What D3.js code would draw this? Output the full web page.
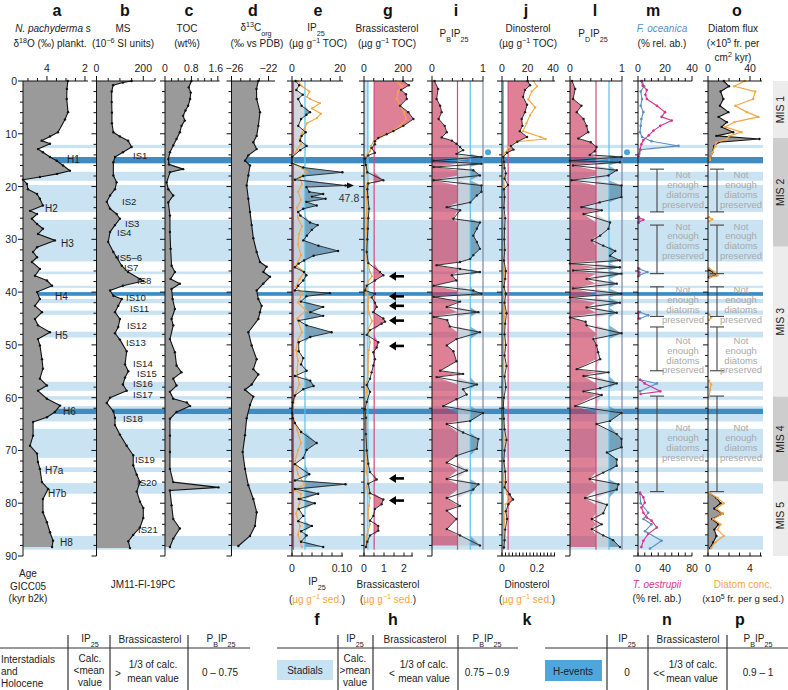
<!DOCTYPE html>
<html><head><meta charset="utf-8">
<script src="https://cdn.jsdelivr.net/npm/d3@7"></script>
<style>body{margin:0;background:#fff}svg{display:block;font-family:"Liberation Sans",Arial,Helvetica,sans-serif}</style>
</head><body><svg id="c" width="788" height="690"></svg>
<script>
// ---------------- DATA ----------------
const ageTicks = [0,10,20,30,40,50,60,70,80,90];
const stadials = [[12.1,12.7],[17.2,18.9],[19.7,24.8],[26.3,34.2],[36.1,36.6],[38.8,39.2],[41.3,42.1],[43.5,44.3],[47.5,48.6],[57.0,58.7],[59.7,60.4],[61.6,64.5],[65.9,71.4],[73.2,74.1],[76.2,78.2],[86.2,88.8]];
const hEvents = [[14.4,15.6],[40.0,40.7],[62.1,63.1]];
const misStages = [[0,10.8,"MIS 1"],[10.8,31.4,"MIS 2"],[31.4,59.8,"MIS 3"],[59.8,75.9,"MIS 4"],[75.9,90,"MIS 5"]];

const d18O = [[0,2.9],[1.5,2.95],[3.4,2.96],[5.9,2.89],[7.3,3.05],[9.7,3.42],[10.5,3.84],[11.3,4.28],[11.9,3.84],[12.9,4.47],[13.5,4.21],[14.4,3.84],[15.1,3.49],[16.0,3.15],[17.0,2.79],[17.6,3.47],[18.2,4.37],[18.7,5.26],[19.5,5.05],[20.5,5.0],[21.4,4.52],[22.3,4.37],[23.6,4.21],[24.6,4.89],[25.2,4.52],[26.1,4.79],[27.1,4.52],[28.0,4.21],[29.0,4.47],[30.2,3.58],[31.5,4.52],[32.4,4.73],[33.4,4.52],[34.3,4.79],[35.6,4.37],[36.9,4.63],[37.8,4.0],[38.8,3.73],[40.0,4.52],[41.3,4.37],[42.6,4.63],[43.8,4.26],[45.1,4.63],[46.3,4.47],[47.6,3.84],[48.9,4.47],[50.1,4.37],[52.7,4.26],[54.5,4.21],[56.4,4.37],[57.7,4.0],[58.7,4.47],[60.2,4.0],[61.5,3.31],[62.7,3.58],[63.7,4.0],[64.6,4.73],[67.2,4.73],[69.1,4.89],[70.6,4.52],[72.2,4.47],[73.5,4.37],[76.0,4.26],[77.3,3.94],[79.2,4.21],[81.7,4.21],[83.6,4.0],[85.5,3.84],[87.1,3.68],[88.3,3.73]];
const magSus = [[0,150],[0.3,113],[0.8,71],[2,65],[4,65],[6,66],[8,66],[9.7,72],[10.5,100],[11.3,135],[12.5,150],[13.5,113],[14.4,79],[15.4,72],[17.9,72],[19.2,86],[20.5,79],[21.7,58],[22.9,44],[24.2,58],[25.2,86],[26.1,100],[27.3,79],[28.6,58],[30.5,50],[32.4,72],[33.4,86],[35.0,108],[36.2,135],[37.5,186],[37.9,200],[38.8,113],[39.7,58],[40.7,72],[41.3,108],[42.6,93],[43.8,79],[45.1,100],[46.6,93],[47.8,79],[49.0,100],[51.2,129],[53.7,122],[55.0,136],[56.2,122],[57.5,113],[58.7,129],[60.0,58],[61.0,44],[62.6,72],[63.8,79],[65.2,79],[67.0,100],[69.1,129],[70.9,157],[72.8,157],[74.6,172],[76.0,186],[77.8,172],[79.7,186],[80.9,200],[82.8,200],[84.6,186],[86.0,157],[87.2,136],[88.5,143]];
const toc = [[0,0.8],[1.2,0.72],[2.2,0.78],[3.4,0.76],[4.7,0.7],[5.6,0.62],[6.6,0.55],[7.5,0.6],[8.5,0.5],[9.7,0.45],[11.0,0.35],[12.2,0.25],[13.5,0.15],[14.8,0.1],[15.8,0.12],[16.7,0.55],[17.3,0.15],[19.2,0.05],[20.5,0.1],[21.7,0.25],[23.0,0.1],[25.5,0.15],[28.6,0.15],[31.8,0.17],[35.0,0.2],[36.2,0.3],[37.5,0.17],[38.4,0.45],[39.4,0.2],[41.3,0.23],[43.2,0.3],[45.1,0.2],[46.3,0.25],[48.9,0.15],[51.4,0.3],[53.9,0.35],[55.2,0.5],[56.4,0.25],[57.7,0.35],[58.9,0.15],[60.2,0.25],[60.9,0.66],[61.6,0.76],[62.7,0.35],[64.0,0.15],[67.2,0.15],[70.3,0.15],[73.5,0.15],[76.0,0.25],[77.0,1.62],[77.6,0.15],[80.4,0.2],[83.0,0.25],[84.8,0.45],[86.7,0.25],[88.3,0.15]];
const d13C = [[0,-23.1],[1.5,-23.3],[3.4,-23.28],[5.9,-22.92],[8.5,-23.1],[10.4,-23.28],[11.6,-23.64],[12.9,-23.28],[14.1,-24.18],[15.1,-24.54],[16.0,-24.0],[17.9,-24.18],[19.8,-24.36],[22.3,-24.18],[24.8,-24.0],[27.3,-23.82],[29.8,-23.64],[32.4,-23.28],[34.3,-22.92],[35.2,-22.2],[36.2,-22.56],[37.1,-21.84],[38.4,-22.56],[39.7,-23.28],[41.3,-23.1],[42.6,-22.74],[43.8,-22.92],[45.1,-23.1],[47.6,-24.18],[50.1,-23.82],[52.7,-23.28],[54.6,-23.64],[55.6,-23.1],[57.5,-23.82],[58.5,-24.54],[59.8,-23.64],[61.4,-24.0],[63.9,-24.36],[67.1,-24.54],[70.3,-24.79],[73.5,-24.54],[76.6,-24.18],[79.2,-23.64],[81.7,-23.28],[84.3,-23.46],[86.2,-24.0],[88.1,-25.26]];

const ip25Toc = [[0,1.5],[0.8,3],[1.7,1.8],[2.6,4.5],[3.4,2.6],[4.7,4.0],[5.9,7.5],[6.4,6],[7.2,3.8],[8.5,2.6],[9.7,5.7],[10.4,4],[11.3,3.4],[12.3,6.1],[13.1,3.4],[14.4,0],[15.6,0],[16.4,4.7],[17.3,21],[18.0,4.7],[18.7,1.2],[19.8,47.8],[20.1,6],[21.0,7.2],[21.4,13],[21.9,8.3],[22.3,14],[22.9,6],[23.6,10.3],[24.2,4.7],[24.8,2.6],[25.5,3.5],[26.8,7.5],[27.3,10.7],[28.2,8.3],[29.3,6.2],[30.2,4.7],[31.2,11],[32.2,19.2],[33.1,9],[34.0,5],[34.6,2.8],[35.3,1.2],[36.2,5],[36.8,6],[37.8,4.7],[38.8,2.6],[39.7,1.2],[40.2,15.8],[40.8,6],[41.8,3.7],[42.8,13],[43.8,7.6],[44.5,13],[45.4,2.8],[46.3,6.1],[47.6,16.5],[48.5,7.6],[49.5,2.8],[51.2,2.8],[52.5,4.7],[53.7,3.8],[54.9,6.1],[55.9,1.2],[56.8,7.6],[57.8,9],[58.4,4.7],[59.6,1.2],[60.9,0.3],[62.9,0],[63.9,0.3],[64.8,1.2],[66.5,3.8],[68.6,10.3],[69.9,6.1],[71.4,4.7],[72.6,1.2],[74.5,7.2],[75.7,1.2],[76.4,23],[77.3,1.2],[78.2,10.9],[79.2,2.8],[80.0,9.5],[81.1,2.8],[82.4,4.7],[83.4,2.6],[84.3,8.3],[85.3,3.8],[86.1,6.1],[87.3,3.8],[88.3,13]];
const ip25Sed = [[0,0.012],[1,0.02],[2,0.035],[3,0.03],[3.4,0.036],[4.2,0.056],[5.2,0.04],[6.2,0.058],[7,0.05],[8,0.03],[9,0.025],[10,0.02],[11,0.015],[12,0.018],[13,0.01],[14.4,0],[15.5,0.002],[16.5,0.02],[17.3,0.03],[18.2,0.015],[19.5,0.02],[21,0.012],[22.5,0.018],[24,0.01],[26,0.012],[27.5,0.02],[29,0.014],[31,0.012],[33,0.018],[35,0.008],[36.2,0.025],[37.5,0.015],[39,0.008],[40.3,0.02],[42,0.012],[43.5,0.028],[45,0.01],[47.6,0.02],[49,0.012],[51,0.008],[53,0.012],[55,0.01],[57.5,0.015],[59,0.008],[61,0.003],[62.9,0],[64,0.003],[66,0.01],[68.6,0.018],[70,0.012],[72,0.006],[74.5,0.012],[76.4,0.025],[77.5,0.006],[78.2,0.018],[80,0.015],[82,0.008],[84.3,0.016],[86,0.012],[88.3,0.02]];
const brassToc = [[0,200],[0.8,230],[1.7,190],[2.5,215],[3.4,219],[4.7,185],[5.9,227],[7.2,253],[8.5,202],[9.5,150],[10.1,116],[10.8,73],[11.4,56],[12.0,56],[12.7,39],[13.6,56],[14.1,22],[14.7,5],[15.9,10],[17.3,17],[18.8,99],[19.4,22],[20.5,17],[22,20],[24.2,26],[26,22],[28,20],[30,17],[32.4,14],[34.5,22],[36.2,82],[36.8,99],[37.8,56],[38.8,14],[39.7,5],[40.3,56],[41,39],[42.0,56],[42.8,65],[43.8,48],[45.0,99],[45.6,108],[46.0,90],[47.2,31],[48.1,14],[49.5,73],[50.5,65],[51.4,48],[52.7,56],[53.9,48],[55.2,39],[56.4,31],[57.6,14],[58.9,31],[60.8,14],[62.2,5],[63.8,10],[66.9,10],[70.0,14],[72.5,22],[74.1,31],[75.5,65],[76.3,22],[78.1,31],[79.3,99],[80.2,90],[81.1,56],[82.4,48],[83.3,31],[84.3,73],[85.2,73],[86.1,31],[87.3,17],[88.3,10]];
const brassSed = [[0,1.6],[1,1.9],[2,1.7],[3.4,1.65],[4.5,1.8],[5.9,2.0],[7.2,2.1],[8.5,1.8],[9.5,1.4],[10.5,0.9],[11.3,0.5],[12.3,0.35],[13.3,0.3],[14.4,0.05],[16,0.1],[17.5,0.15],[18.8,0.2],[20,0.1],[22,0.12],[24,0.15],[26,0.1],[28,0.12],[30,0.1],[32,0.12],[34,0.15],[36.2,0.3],[37,0.4],[38,0.2],[40,0.1],[41,0.25],[42.6,0.2],[44,0.25],[45.5,0.4],[47,0.2],[49.5,0.3],[51,0.25],[53,0.2],[55,0.22],[57,0.15],[59,0.12],[61,0.06],[63,0.05],[65,0.06],[68,0.08],[71,0.1],[74,0.12],[75.6,0.2],[77,0.12],[79,0.3],[80.5,0.25],[82,0.2],[84,0.3],[86,0.15],[88.3,0.1]];
const pbip25 = [[0,0.05],[1.5,0.12],[3.4,0.09],[4.7,0.16],[5.9,0.19],[7.2,0.13],[8.5,0.25],[9.7,0.29],[10.7,0.19],[11.3,0.39],[11.9,0.48],[12.5,0.55],[13.1,0.61],[13.8,0.48],[14.4,0.97],[15.1,0.03],[15.7,0.97],[16.3,0.03],[16.9,0.81],[17.9,0.94],[18.8,0.03],[19.8,0.97],[21.0,0.97],[21.7,0.88],[23.0,0.75],[23.9,0.29],[24.5,0.55],[26.1,0.42],[26.8,0.94],[28.0,0.88],[29.3,0.81],[30.5,0.88],[31.8,0.94],[33.0,0.81],[33.7,0.75],[34.3,0.55],[34.9,0.09],[35.6,0.55],[36.2,0.94],[36.8,0.39],[37.8,0.48],[38.8,0.03],[39.7,0.81],[40.3,0.97],[40.9,0.03],[41.8,0.55],[42.8,0.29],[43.8,0.91],[44.7,0.03],[45.3,0.3],[46.5,0.35],[47.6,0.94],[48.9,0.48],[50.1,0.29],[51.2,0.42],[53.1,0.48],[54.9,0.16],[55.5,0.61],[56.1,0.09],[57.5,0.88],[58.4,0.61],[59.4,0.68],[60.3,0.48],[61.6,0.22],[62.9,1.0],[64.4,0.75],[65.0,0.29],[66.6,0.61],[67.8,0.91],[69.7,0.88],[71.0,0.48],[72.3,0.29],[73.8,0.68],[75.4,0.29],[76.4,0.91],[77.4,0.81],[79.0,0.29],[80.5,0.55],[81.4,0.29],[83.0,0.48],[84.9,0.29],[86.1,0.55],[88.0,0.94]];
const dinoToc = [[0,20],[0.8,22],[1.7,18],[3,16.5],[4.5,19.6],[5.9,18],[7.2,15.4],[8.5,16],[9.5,14],[10.6,19.6],[11.5,12],[12.3,7],[13.0,9],[13.6,4],[14.4,1],[15.3,1.5],[16.5,2],[17.5,3],[18.5,2],[19.7,4.7],[20.5,1.5],[22,2],[24,1.5],[26,2.5],[28,2],[30,1.8],[32,2.2],[34,1.5],[36,3],[37.5,2.5],[39,1.5],[40.3,3],[42,2],[44,3.5],[46,2.5],[48,2],[50,3],[52,2],[54,3.5],[56,2],[58,3],[60,1.5],[62,1],[64,1.5],[66,2],[68,3.5],[70,2],[72,1.5],[74,2.5],[76,3],[77,2],[78.3,6],[79.3,8.6],[80.2,5],[81.5,3],[83,4],[85,2.5],[87,2],[88.4,1.5]];
const dinoSed = [[0,0.18],[1,0.2],[2,0.17],[3.5,0.15],[5,0.19],[6.5,0.16],[8,0.14],[9.5,0.12],[10.6,0.22],[11.0,0.25],[11.5,0.08],[12.5,0.04],[13.5,0.02],[14.4,0.005],[16,0.008],[18,0.01],[20,0.012],[24,0.008],[28,0.01],[32,0.008],[36,0.015],[40,0.01],[44,0.015],[48,0.01],[52,0.012],[56,0.01],[60,0.008],[64,0.006],[68,0.012],[72,0.008],[76,0.012],[78.3,0.03],[79.3,0.045],[80.2,0.02],[83,0.015],[86,0.01],[88.4,0.008]];
const pdip25 = [[0,0.04],[1.5,0.1],[3.4,0.06],[4.7,0.22],[5.9,0.13],[7.2,0.26],[8.5,0.32],[9.7,0.35],[10.9,0.16],[11.6,0.4],[12.5,0.51],[13.3,0.48],[14.0,0.38],[14.4,0.99],[15.1,0],[15.4,0.96],[16.0,0.06],[16.9,0.9],[17.9,0.74],[18.8,0.03],[19.8,0.99],[22.0,0.99],[23.0,0.57],[23.9,0.22],[24.5,0.61],[25.2,0.26],[26.8,0.77],[28.0,0.74],[29.3,0.58],[30.2,0.42],[31.2,0.64],[32.2,0.87],[33.1,0.77],[34.0,0.96],[34.6,0],[35.3,0.96],[35.9,0.06],[36.5,0.99],[37.5,0.32],[38.4,0.9],[39.3,0.06],[40.3,0.99],[41.0,0],[42.0,0.96],[42.9,0.32],[43.9,0.9],[44.8,0],[45.6,0.3],[46.3,0.32],[47.8,0.99],[48.9,0.45],[50.1,0.51],[51.4,0.54],[52.7,0.58],[54.6,0.13],[55.2,0.74],[55.9,0.26],[57.3,0.9],[58.2,0.58],[58.8,0.26],[59.5,0.61],[61.6,0.1],[62.9,0.99],[64.4,0.77],[65.0,0.51],[66.9,0.9],[67.8,0.99],[69.4,0.99],[70.4,0.71],[71.7,0.9],[72.9,0.9],[74.2,0.64],[75.4,0.38],[76.4,0.93],[77.4,0.9],[79.0,0.29],[80.3,0.71],[81.9,0.64],[83.0,0.42],[84.0,0.61],[84.9,0.42],[86.1,0.64],[87.0,0.83],[88.3,0.96]];
const fOceanica = [[0,3],[1,4.5],[2,2],[3.4,3],[4.7,2],[5.9,4],[7.2,2.5],[8.5,2],[9.7,1.5],[10.6,3],[11.4,10],[12.3,30],[13.0,2],[13.8,1],[14.4,0.5],[null,null],[25.8,0.5],[26.3,1],[26.8,0.5],[null,null],[35.6,1],[36.2,7],[36.8,1],[null,null],[43.8,1.5],[44.4,7.6],[45.0,1.5],[null,null],[56.6,1.5],[57.3,14],[58.8,1.5],[null,null],[78.2,1.5],[80,2],[81.8,7.6],[83.0,4],[84.0,10],[85.3,5.2],[87.1,17.5],[88.6,8.9]];
const tOestrupii = [[0,5],[0.9,7],[1.7,13],[2.6,11],[3.4,13],[4.7,28],[5.9,40],[6.8,35],[7.5,50],[8.5,33],[9.4,23],[10.3,16],[11.2,8],[12.0,5],[13.0,3],[14.4,0.5],[null,null],[25.8,1],[26.3,8],[26.8,1],[null,null],[35.5,0.5],[36.3,2],[37.0,0.5],[null,null],[43.8,1],[45.0,1],[null,null],[56.6,3],[57.3,10],[58.8,33],[59.3,4],[null,null],[78.0,3],[78.9,8],[79.9,10],[80.8,5],[81.8,8],[82.7,13],[83.3,20],[84.6,28],[85.8,15],[87.1,8],[88.3,5]];
const diatomFlux = [[0,15],[1,20],[2,12],[3.4,14.6],[4.7,11.4],[5.9,19.4],[6.8,10],[7.8,18],[8.7,13],[9.7,24],[10.4,8],[11.0,49],[11.6,10],[12.3,6],[13.5,4],[15.0,2],[null,null],[35.8,1],[36.2,5],[36.8,8],[37.2,1],[null,null],[78,1],[79,8],[80,12],[81,6],[82,14],[83,4],[84,10],[85,6],[86.2,8],[87.4,5],[88.5,2]];
const diatomConc = [[0,3.5],[1,2.5],[2,4.5],[3.4,4.3],[4.7,2.6],[5.9,3.7],[6.8,4.8],[7.8,2.5],[8.7,1.6],[9.7,3.2],[10.4,2.0],[11.0,1.8],[11.6,0.8],[12.3,0.7],[13.5,0.4],[15.0,0.2],[null,null],[25.8,0.1],[26.2,0.4],[26.6,0.1],[null,null],[35.5,0.1],[36.2,0.6],[36.8,0.9],[37.2,0.2],[null,null],[44.2,0.1],[44.8,0.3],[45.3,0.1],[null,null],[56.8,0.1],[57.5,0.3],[58.5,0.2],[59.8,0.1],[null,null],[78,0.1],[79,0.9],[80,1.5],[81,0.8],[82,1.4],[83,0.5],[84,1.2],[85,0.9],[86.2,1.5],[87.4,0.7],[88.5,0.3]];

const hLabels = [["H1",14.9,67],["H2",24.2,45],["H3",30.8,61],["H4",40.8,55],["H5",48.2,55],["H6",62.7,63],["H7a",73.8,45],["H7b",78.2,48],["H8",87.5,60]];
const isLabels = [["IS1",14.1,133],["IS2",22.8,122],["IS3",27.0,125],["IS4",28.7,117],["IS5–6",33.5,117],["IS7",35.4,124],["IS8",37.8,137],["IS10",41.0,126],["IS11",43.1,130],["IS12",46.4,127],["IS13",49.6,126],["IS14",53.6,133],["IS15",55.5,137],["IS16",57.4,133],["IS17",59.4,133],["IS18",64.0,123],["IS19",71.8,135],["IS20",76.2,137],["IS21",85.1,138]];
const arrowAges = [37.0,40.8,42.6,45.4,50.2,75.3,79.5];
const notEnough = [[16.7,24.8,20.6],[27.3,36.5,30.3],[39.0,44.6,42.4],[46.6,54.9,52.0],[59.7,77.8,68.5]];

// ---------------- SETUP ----------------
const svg = d3.select("#c");
const Y0 = 81, Y1 = 556;
const y = d3.scaleLinear().domain([0,90]).range([Y0,Y1]);
const FILLGRAY = "#9a9a9a", PINK = "#d24a7c", CYAN = "#57c3ea", SLATE = "#7d86a6", ORANGE = "#f6a540";
const PINKFILL = "rgba(204,51,85,0.62)";
const HF = 10;
const TF = 10.5;

const bandG = svg.append("g");
stadials.forEach(b => bandG.append("rect").attr("x",23).attr("width",740).attr("y",y(b[0])).attr("height",y(b[1])-y(b[0])).attr("fill","#c9e3f3"));
hEvents.forEach(b => bandG.append("rect").attr("x",23).attr("width",740).attr("y",y(b[0])).attr("height",y(b[1])-y(b[0])).attr("fill","#3c8dc5"));

misStages.forEach((m,i) => {
  svg.append("rect").attr("x",773).attr("width",15).attr("y",y(m[0])).attr("height",y(m[1])-y(m[0])).attr("fill", i%2 ? "#cdcdcd" : "#ececec");
  const cy = (y(m[0])+y(Math.min(m[1],88.8)))/2;
  svg.append("text").attr("transform",`translate(784,${cy}) rotate(-90)`).attr("text-anchor","middle").attr("font-size",10.5).attr("fill","#222").text(m[2]);
});

function rich(x, yy, parts, opt={}) {
  const size = opt.size || HF;
  const t = svg.append("text").attr("x",x).attr("y",yy).attr("text-anchor",opt.anchor||"middle").attr("font-size",size).attr("fill",opt.fill||"#222");
  parts.forEach(p => {
    if (typeof p === "string") p = {t:p};
    const s = t.append("tspan").text(p.t);
    if (p.sup) s.attr("baseline-shift","super").attr("font-size",size*0.72);
    if (p.sub) s.attr("baseline-shift","sub").attr("font-size",size*0.72);
    if (p.i) s.attr("font-style","italic");
    if (p.fill) s.attr("fill",p.fill);
  });
  return t;
}

const panels = {
  a:{x0:23,x1:88,dom:[5.26,1.84],ticks:[5,4.5,4,3.5,3,2.5,2],labels:[4,2]},
  b:{x0:96.5,x1:155,dom:[0,250],ticks:[0,50,100,150,200,250],labels:[0,200]},
  c:{x0:165,x1:219.5,dom:[0,1.65],ticks:[0,0.2,0.4,0.6,0.8,1,1.2,1.4,1.6],labels:[0,0.8,1.6]},
  d:{x0:231.5,x1:275,dom:[-26,-21.3],ticks:[-26,-25,-24,-23,-22],labels:[-26,-22]},
  e:{x0:292,x1:343,dom:[0,21.25],ticks:[0,4,8,12,16,20],labels:[0,20]},
  g:{x0:364,x1:412.8,dom:[0,250],ticks:[0,50,100,150,200,250],labels:[0,200]},
  i:{x0:432,x1:483,dom:[0,1],ticks:[0,0.2,0.4,0.6,0.8,1],labels:[0,1]},
  j:{x0:502,x1:555,dom:[0,41.5],ticks:[0,10,20,30,40],labels:[0,20,40]},
  l:{x0:570,x1:622,dom:[0,1],ticks:[0,0.2,0.4,0.6,0.8,1],labels:[0,1]},
  m:{x0:638,x1:692,dom:[0,40],ticks:[0,5,10,15,20,25,30,35,40],labels:[0,20,40]},
  o:{x0:708,x1:762,dom:[0,51.4],ticks:[0,10,20,30,40,50],labels:[0,40]}
};
Object.values(panels).forEach(p => p.x = d3.scaleLinear().domain(p.dom).range([p.x0,p.x1]));

const fmt = v => (v<0 ? "−"+Math.abs(v) : String(v));
const def = d => d[0] !== null && d[1] !== null;

function lineOf(xs, data, color, w, dots=true, r=1.25) {
  const ln = d3.line().defined(def).x(d=>xs(d[1])).y(d=>y(d[0]));
  svg.append("path").attr("d",ln(data)).attr("fill","none").attr("stroke",color).attr("stroke-width",w).attr("stroke-linejoin","round");
  if (dots) svg.append("g").selectAll("circle").data(data.filter(def)).join("circle")
    .attr("cx",d=>xs(d[1])).attr("cy",d=>y(d[0])).attr("r",r).attr("fill",color);
}
function areaOf(data, x0f, x1f, fill) {
  const ar = d3.area().defined(def).y(d=>y(d[0])).x0(x0f).x1(x1f);
  svg.append("path").attr("d",ar(data)).attr("fill",fill).attr("stroke","none");
}
function vline(xp, color, w=1.2) {
  svg.append("line").attr("x1",xp).attr("x2",xp).attr("y1",Y0).attr("y2",y(88.8)).attr("stroke",color).attr("stroke-width",w);
}

[["a",d18O],["b",magSus],["c",toc],["d",d13C]].forEach(([k,data]) => {
  const p = panels[k];
  areaOf(data, ()=>p.x0, d=>p.x(d[1]), FILLGRAY);
  lineOf(p.x, data, "#111", 1.1, true, 1.2);
});

(() => {
  const p = panels.e, xs = p.x, cl = v => xs(Math.min(v,22.3));
  const thP = 0.6, thB = 5.4;
  areaOf(ip25Toc, ()=>xs(0), d=>xs(Math.min(d[1],thP)), PINKFILL);
  areaOf(ip25Toc, ()=>xs(thP), d=>cl(Math.max(d[1],thP)), "rgba(190,200,206,0.7)");
  areaOf(ip25Toc, ()=>xs(thB), d=>cl(Math.max(d[1],thB)), "rgba(80,135,170,0.65)");
  vline(xs(thP), PINK); vline(xs(thB), CYAN);
  const xsed = d3.scaleLinear().domain([0,0.1]).range([292,342]);
  lineOf(xsed, ip25Sed, ORANGE, 1.1, true, 1.1);
  const ln = d3.line().x(d=>cl(d[1])).y(d=>y(d[0]));
  svg.append("path").attr("d",ln(ip25Toc)).attr("fill","none").attr("stroke","#222").attr("stroke-width",0.9);
  svg.append("g").selectAll("circle").data(ip25Toc).join("circle").attr("cx",d=>cl(d[1])).attr("cy",d=>y(d[0])).attr("r",1.2).attr("fill","#111");
  const big = ip25Toc.find(d=>d[1]>40);
  const ay = y(big[0]);
  svg.append("line").attr("x1",cl(big[1])).attr("x2",349).attr("y1",ay).attr("y2",ay).attr("stroke","#111").attr("stroke-width",1.2);
  svg.append("path").attr("d",`M354,${ay} L347,${ay-3} L347,${ay+3} Z`).attr("fill","#111");
  svg.append("text").attr("x",349).attr("y",ay+16).attr("text-anchor","middle").attr("font-size",10.5).attr("fill","#333").text(String(big[1]));
})();

(() => {
  const p = panels.g, xs = p.x;
  const thB = 20, thP = 52;
  areaOf(brassToc, ()=>xs(0), d=>xs(Math.min(d[1],thB)), "rgba(150,205,232,0.5)");
  areaOf(brassToc, ()=>xs(thP), d=>xs(Math.max(d[1],thP)), PINKFILL);
  vline(xs(thB), CYAN); vline(xs(thP), PINK);
  const xsed = d3.scaleLinear().domain([0,2.5]).range([364,414]);
  lineOf(xsed, brassSed, ORANGE, 1.1, true, 1.1);
  lineOf(xs, brassToc, "#222", 0.9, true, 1.2);
  arrowAges.forEach(a => {
    const ay = y(a);
    svg.append("line").attr("x1",404).attr("x2",394).attr("y1",ay).attr("y2",ay).attr("stroke","#000").attr("stroke-width",2.6);
    svg.append("path").attr("d",`M389,${ay} L396,${ay-4.5} L396,${ay+4.5} Z`).attr("fill","#000");
  });
})();

[["i",pbip25],["l",pdip25]].forEach(([k,data]) => {
  const xs = panels[k].x;
  areaOf(data, ()=>xs(0), d=>xs(Math.min(d[1],0.5)), PINKFILL);
  areaOf(data, ()=>xs(0.5), d=>xs(Math.max(d[1],0.5)), "rgba(190,200,206,0.7)");
  areaOf(data, ()=>xs(0.75), d=>xs(Math.max(d[1],0.75)), "rgba(80,135,170,0.65)");
  vline(xs(0.5), PINK); vline(xs(0.75), CYAN); vline(xs(1), SLATE);
  lineOf(xs, data, "#222", 0.9, true, 1.2);
  svg.append("circle").attr("cx",xs(1)+5).attr("cy",y(13.5)).attr("r",3).attr("fill","#4aa6d8");
});

(() => {
  const xs = panels.j.x, thB = 1.1, thP = 4.8;
  areaOf(dinoToc, ()=>xs(0), d=>xs(Math.min(d[1],thB)), "rgba(150,205,232,0.5)");
  areaOf(dinoToc, ()=>xs(thP), d=>xs(Math.max(d[1],thP)), PINKFILL);
  vline(xs(thB), CYAN); vline(xs(thP), PINK);
  const xsed = d3.scaleLinear().domain([0,0.2]).range([502,537]);
  lineOf(xsed, dinoSed, ORANGE, 1.1, true, 1.1);
  lineOf(xs, dinoToc, "#222", 0.9, true, 1.2);
})();

(() => {
  const xs = panels.m.x, xb = d3.scaleLinear().domain([0,80]).range([638,692]);
  lineOf(xs, fOceanica, "#5b8ec0", 1.1, true, 1.3);
  lineOf(xb, tOestrupii, "#d8338c", 1.1, true, 1.3);
})();

(() => {
  const xs = panels.o.x, xb = d3.scaleLinear().domain([0,4]).range([708,750]);
  areaOf(diatomFlux, ()=>xs(0), d=>xs(d[1]), FILLGRAY);
  lineOf(xs, diatomFlux, "#111", 1.1, true, 1.2);
  lineOf(xb, diatomConc, ORANGE, 1.2, true, 1.2);
})();

notEnough.forEach(([a0,a1,mid]) => {
  [[657,683],[717,741]].forEach(([bx,tx]) => {
    const g = svg.append("g").attr("stroke","#444").attr("stroke-width",1.1);
    g.append("line").attr("x1",bx).attr("x2",bx).attr("y1",y(a0)).attr("y2",y(a1));
    g.append("line").attr("x1",bx-7).attr("x2",bx+7).attr("y1",y(a0)).attr("y2",y(a0));
    g.append("line").attr("x1",bx-7).attr("x2",bx+7).attr("y1",y(a1)).attr("y2",y(a1));
    ["Not","enough","diatoms","preserved"].forEach((w,i) => {
      svg.append("text").attr("x",tx).attr("y",y(mid)+(i-1.5)*9.8+3.3).attr("text-anchor","middle").attr("font-size",9.5).attr("fill","#a9a9a9").text(w);
    });
  });
});

Object.entries(panels).forEach(([k,p]) => {
  const g = svg.append("g").attr("stroke","#111").attr("stroke-width",1);
  g.append("line").attr("x1",p.x0).attr("x2",p.x0).attr("y1",Y0).attr("y2",Y1);
  g.append("line").attr("x1",p.x0).attr("x2",p.x1).attr("y1",Y0).attr("y2",Y0);
  d3.range(0,91,2).forEach(a => {
    const major = a % 10 === 0;
    g.append("line").attr("x1",p.x0-(major?5:3)).attr("x2",p.x0).attr("y1",y(a)).attr("y2",y(a));
  });
  p.ticks.forEach(t => {
    const lab = p.labels.includes(t);
    g.append("line").attr("x1",p.x(t)).attr("x2",p.x(t)).attr("y1",Y0).attr("y2",Y0-(lab?5:3));
  });
  p.labels.forEach((t,i) => {
    let lx = p.x(t);
    if (k === "d" && i === 0) lx += 3;
    if (k === "c" && i === 2) lx -= 2;
    svg.append("text").attr("x",lx).attr("y",72).attr("text-anchor","middle").attr("font-size",TF).attr("fill","#222").text(fmt(t));
  });
});
ageTicks.forEach(a => svg.append("text").attr("x",17).attr("y",y(a)+4).attr("text-anchor","end").attr("font-size",TF).attr("fill","#222").text(a));

const bottomAxes = [
  {x0:292,x1:343,dom:[0,0.1],r:[292,342],ticks:d3.range(0,0.101,0.02),labels:[[0,"0"],[0.1,"0.10"]]},
  {x0:364,x1:412.8,dom:[0,2],r:[364,404],ticks:[0,0.5,1,1.5,2,2.4],labels:[[0,"0"],[1,"1"],[2,"2"]]},
  {x0:502,x1:555,dom:[0,0.2],r:[502,537],ticks:d3.range(0,0.301,0.02),labels:[[0,"0"],[0.2,"0.2"]]},
  {x0:638,x1:692,dom:[0,80],r:[638,692],ticks:d3.range(0,81,10),labels:[[0,"0"],[40,"40"],[80,"80"]]},
  {x0:708,x1:762,dom:[0,4],r:[708,750],ticks:[0,1,2,3,4,5],labels:[[0,"0"],[4,"4"]]}
];
bottomAxes.forEach(b => {
  const s = d3.scaleLinear().domain(b.dom).range(b.r);
  const g = svg.append("g").attr("stroke","#111").attr("stroke-width",1);
  g.append("line").attr("x1",b.x0).attr("x2",b.x1).attr("y1",Y1).attr("y2",Y1);
  b.ticks.forEach(t => { if (s(t) <= b.x1+0.5) g.append("line").attr("x1",s(t)).attr("x2",s(t)).attr("y1",Y1).attr("y2",Y1-3.5); });
  b.labels.forEach(([v,l]) => svg.append("text").attr("x",s(v)).attr("y",572).attr("text-anchor","middle").attr("font-size",TF).attr("fill","#222").text(l));
});

hLabels.forEach(([t,a,x]) => svg.append("text").attr("x",x).attr("y",y(a)+3.5).attr("font-size",10).attr("fill","#222").text(t));
isLabels.forEach(([t,a,x]) => svg.append("text").attr("x",x).attr("y",y(a)+3.3).attr("font-size",9.6).attr("fill","#222").text(t));

const letters = [["a",57],["b",125],["c",189],["d",253],["e",318],["g",388],["i",456],["j",526],["l",595],["m",653],["o",737]];
letters.forEach(([t,x]) => svg.append("text").attr("x",x).attr("y",16).attr("text-anchor","middle").attr("font-size",16).attr("font-weight","bold").attr("fill","#111").text(t));
rich(53,32,[{t:"N. pachyderma",i:true}," s"]);
rich(50,47,["δ",{t:"18",sup:true},"O (‰) plankt."]);
rich(123,32,["MS"]);
rich(123,47,["(10",{t:"−6",sup:true}," SI units)"]);
rich(187,32,["TOC"]);
rich(187,47,["(wt%)"]);
rich(256,31,["δ",{t:"13",sup:true},"C",{t:"org",sub:true}]);
rich(257,47,["(‰ vs PDB)"]);
rich(316,31,["IP",{t:"25",sub:true}]);
rich(318,47,["(µg g",{t:"−1",sup:true}," TOC)"]);
rich(387,32,["Brassicasterol"]);
rich(387,47,["(µg g",{t:"−1",sup:true}," TOC)"]);
rich(454,37,["P",{t:"B",sub:true},"IP",{t:"25",sub:true}]);
rich(528,32,["Dinosterol"]);
rich(528,47,["(µg g",{t:"−1",sup:true}," TOC)"]);
rich(593,37,["P",{t:"D",sub:true},"IP",{t:"25",sub:true}]);
rich(662,32,[{t:"F. oceanica",i:true,fill:"#5b8ec0"}]);
rich(662,47,["(% rel. ab.)"]);
rich(733,32,["Diatom flux"]);
rich(733,47,["(×10",{t:"5",sup:true}," fr. per"]);
rich(733,61,["cm",{t:"2",sup:true}," kyr)"]);

rich(28,577,["Age"]); rich(28,590,["GICC05"]); rich(28,602,["(kyr b2k)"]);
rich(143,588,["JM11-FI-19PC"]);
rich(317,585,["IP",{t:"25",sub:true}]);
rich(317,603,["(",{t:"µg g",fill:ORANGE},{t:"−1",sup:true,fill:ORANGE},{t:" sed.",fill:ORANGE},")"]);
rich(388,588,["Brassicasterol"]);
rich(388,603,["(",{t:"µg g",fill:ORANGE},{t:"−1",sup:true,fill:ORANGE},{t:" sed.",fill:ORANGE},")"]);
rich(527,588,["Dinosterol"]);
rich(527,603,["(",{t:"µg g",fill:ORANGE},{t:"−1",sup:true,fill:ORANGE},{t:" sed.",fill:ORANGE},")"]);
rich(657,588,[{t:"T. oestrupii",i:true,fill:"#d8338c"}]);
rich(657,602,["(% rel. ab.)"]);
rich(743,588,[{t:"Diatom conc.",fill:ORANGE}]);
rich(743,602,["(x10",{t:"5",sup:true}," fr. per g sed.)"],{size:9.6});
[["f",317],["h",393],["k",527],["n",667],["p",740]].forEach(([t,x]) => svg.append("text").attr("x",x).attr("y",625).attr("text-anchor","middle").attr("font-size",16).attr("font-weight","bold").attr("fill","#111").text(t));

function hl(x1,x2,yy){svg.append("line").attr("x1",x1).attr("x2",x2).attr("y1",yy).attr("y2",yy).attr("stroke","#333").attr("stroke-width",1.2);}
function vl(x){svg.append("line").attr("x1",x).attr("x2",x).attr("y1",635).attr("y2",690).attr("stroke","#333").attr("stroke-width",1.2);}
const T = 10;
hl(0,250,648); [68,110,188].forEach(vl);
rich(90,642,["IP",{t:"25",sub:true}],{size:T}); rich(150,643,["Brassicasterol"],{size:T}); rich(221,642,["P",{t:"B",sub:true},"IP",{t:"25",sub:true}],{size:T});
rich(1,663,["Interstadials"],{anchor:"start",size:T}); rich(1,675,["and"],{anchor:"start",size:T}); rich(1,687,["Holocene"],{anchor:"start",size:T});
rich(90,662,["Calc."],{size:T}); rich(89,674,["<mean"],{size:T}); rich(90,686,["value"],{size:T});
rich(118,677,[">"],{size:T}); rich(153,668,["1/3 of calc."],{size:T}); rich(153,682,["mean value"],{size:T});
rich(220,676,["0 – 0.75"],{size:T});
hl(277,518,648); [338,373,458].forEach(vl);
svg.append("rect").attr("x",277).attr("y",660).attr("width",56).attr("height",20).attr("fill","#c6e3f4");
rich(305,674,["Stadials"],{size:T});
rich(355,642,["IP",{t:"25",sub:true}],{size:T}); rich(415,643,["Brassicasterol"],{size:T}); rich(487,642,["P",{t:"B",sub:true},"IP",{t:"25",sub:true}],{size:T});
rich(355,662,["Calc."],{size:T}); rich(355,674,[">mean"],{size:T}); rich(355,686,["value"],{size:T});
rich(392,677,["<"],{size:T}); rich(424,668,["1/3 of calc."],{size:T}); rich(424,682,["mean value"],{size:T});
rich(487,676,["0.75 – 0.9"],{size:T});
hl(545,788,648); [607,648,727].forEach(vl);
svg.append("rect").attr("x",545).attr("y",660).attr("width",57).attr("height",21).attr("fill","#4ea6da");
rich(573,675,["H-events"],{size:T});
rich(627,642,["IP",{t:"25",sub:true}],{size:T}); rich(688,643,["Brassicasterol"],{size:T}); rich(758,642,["P",{t:"B",sub:true},"IP",{t:"25",sub:true}],{size:T});
rich(627,676,["0"],{size:T});
rich(659,677,["<<"],{size:T}); rich(693,668,["1/3 of calc."],{size:T}); rich(692,682,["mean value"],{size:T});
rich(758,676,["0.9 – 1"],{size:T});
</script></body></html>
